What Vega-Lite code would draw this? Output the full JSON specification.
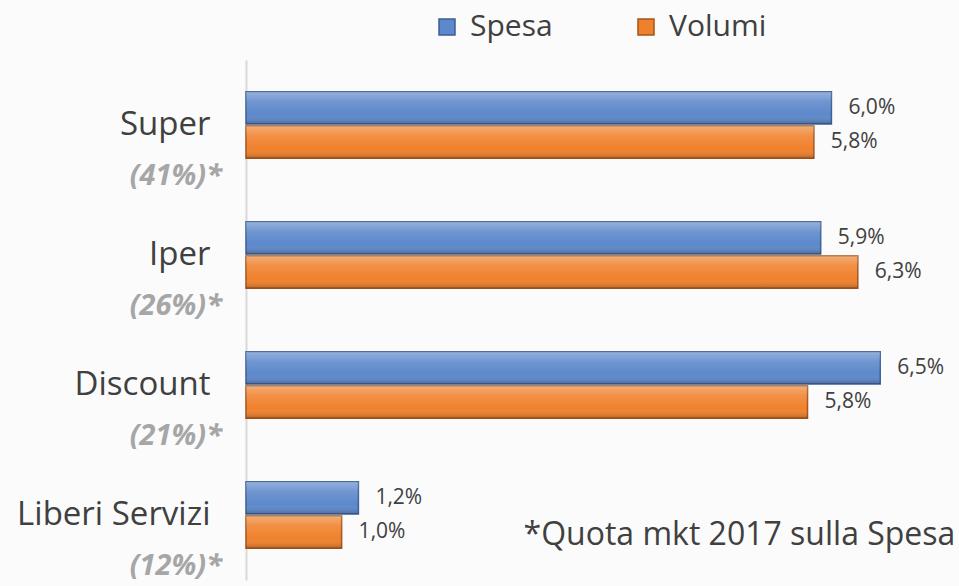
{
  "$schema": "https://vega.github.io/schema/vega-lite/v6.json",
  "width": 683,
  "height": 520,
  "autosize": {"type": "none"},
  "padding": {"left": 246, "top": 60, "right": 30, "bottom": 6},
  "background": "#fbfbfb",
  "config": {
    "view": {"stroke": null},
    "font": "Open Sans",
    "locale": {"number": {"decimal": ",", "thousands": ".", "grouping": [3], "currency": ["€", ""]}}
  },
  "datasets": {
    "bars": [
      {"canale": "Super", "serie": "Spesa", "valore": 0.0600},
      {"canale": "Super", "serie": "Volumi", "valore": 0.0582},
      {"canale": "Iper", "serie": "Spesa", "valore": 0.0589},
      {"canale": "Iper", "serie": "Volumi", "valore": 0.0627},
      {"canale": "Discount", "serie": "Spesa", "valore": 0.0650},
      {"canale": "Discount", "serie": "Volumi", "valore": 0.05755},
      {"canale": "Liberi Servizi", "serie": "Spesa", "valore": 0.01152},
      {"canale": "Liberi Servizi", "serie": "Volumi", "valore": 0.0098}
    ],
    "quote": [
      {"canale": "Super", "quota": "(41%)*"},
      {"canale": "Iper", "quota": "(26%)*"},
      {"canale": "Discount", "quota": "(21%)*"},
      {"canale": "Liberi Servizi", "quota": "(12%)*"}
    ],
    "nota": [{"canale": "Liberi Servizi", "testo": "*Quota mkt 2017 sulla Spesa"}]
  },
  "encoding": {
    "y": {
      "field": "canale",
      "type": "nominal",
      "sort": ["Super", "Iper", "Discount", "Liberi Servizi"],
      "scale": {"paddingInner": 0.49, "paddingOuter": 0.245},
      "axis": {
        "title": null,
        "ticks": false,
        "labelFontSize": 33,
        "labelColor": "#404040",
        "labelPadding": 36,
        "labelLimit": 300,
        "domainColor": "#d9d9d9",
        "domainWidth": 2,
        "labelFont": "Open Sans"
      }
    }
  },
  "layer": [
    {
      "data": {"name": "bars"},
      "mark": {"type": "bar", "strokeWidth": 1.5},
      "encoding": {
        "x": {"field": "valore", "type": "quantitative", "scale": {"domain": [0, 0.07], "nice": false}, "axis": null},
        "yOffset": {"field": "serie", "scale": {"paddingInner": 0.06}},
        "color": {
          "field": "serie",
          "type": "nominal",
          "scale": {"domain": ["Spesa", "Volumi"], "range": ["#5d88cb", "#f0812c"]},
          "legend": {
            "title": null,
            "orient": "none",
            "direction": "horizontal",
            "legendX": 186,
            "legendY": -48,
            "symbolType": "square",
            "symbolSize": 256,
            "symbolStrokeWidth": 1.5,
            "labelFontSize": 30,
            "labelColor": "#404040",
            "labelLimit": 200,
            "columnPadding": 78,
            "labelOffset": 8
          }
        },
        "stroke": {
          "field": "serie",
          "type": "nominal",
          "scale": {"domain": ["Spesa", "Volumi"], "range": ["#3d5f93", "#a4541b"]},
          "legend": null
        }
      }
    },
    {
      "data": {"name": "bars"},
      "mark": {
        "type": "bar",
        "strokeWidth": 0,
        "fill": {
          "gradient": "linear",
          "x1": 0, "y1": 0, "x2": 0, "y2": 1,
          "stops": [
            {"offset": 0, "color": "rgba(255,255,255,0.35)"},
            {"offset": 0.3, "color": "rgba(255,255,255,0.12)"},
            {"offset": 0.7, "color": "rgba(255,255,255,0)"},
            {"offset": 1, "color": "rgba(0,0,0,0.22)"}
          ]
        }
      },
      "encoding": {
        "x": {"field": "valore", "type": "quantitative"},
        "yOffset": {"field": "serie"}
      }
    },
    {
      "data": {"name": "bars"},
      "mark": {"type": "text", "align": "left", "dx": 17, "fontSize": 21, "color": "#404040", "baseline": "middle"},
      "encoding": {
        "x": {"field": "valore", "type": "quantitative"},
        "yOffset": {"field": "serie"},
        "text": {"field": "valore", "type": "quantitative", "format": ".1%"}
      }
    },
    {
      "data": {"name": "quote"},
      "mark": {"type": "text", "align": "right", "dx": -24, "dy": 51, "fontSize": 29, "fontStyle": "italic", "fontWeight": "bold", "color": "#a6a6a6", "baseline": "middle"},
      "encoding": {
        "x": {"datum": 0, "type": "quantitative"},
        "text": {"field": "quota"}
      }
    },
    {
      "data": {"name": "nota"},
      "mark": {"type": "text", "align": "right", "dy": 20, "fontSize": 32, "color": "#404040", "baseline": "middle"},
      "encoding": {
        "x": {"datum": 0.0727, "type": "quantitative"},
        "text": {"field": "testo"}
      }
    }
  ]
}
